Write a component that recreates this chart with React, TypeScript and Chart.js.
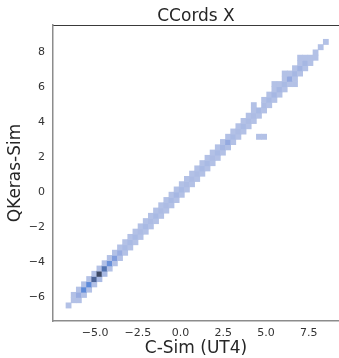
import React, { useEffect, useRef } from "react";
import { Chart, registerables } from "chart.js";

Chart.register(...registerables);

const TITLE = "CCords X";
const X_LABEL = "C-Sim (UT4)";
const Y_LABEL = "QKeras-Sim";
const X_TICKS = [-5, -2.5, 0, 2.5, 5, 7.5];
const Y_TICKS = [-6, -4, -2, 0, 2, 4, 6, 8];
const X_RANGE = [-7.46, 9.27];
const Y_RANGE = [-7.39, 9.57];

// histogram bins (data units)
const X_BIN_START = -6.7;
const X_BIN_WIDTH = 0.301;
const Y_BIN_START = -6.65;
const Y_BIN_WIDTH = 0.302;

// [x bin, y bin, count]
const CELLS: [number, number, number][] = [
  [0, 0, 2],
  [1, 1, 2], [2, 1, 2],
  [1, 2, 2], [2, 2, 9], [3, 2, 2],
  [2, 3, 2], [3, 3, 20], [4, 3, 2],
  [3, 4, 2], [4, 4, 20], [5, 4, 2],
  [4, 5, 2], [5, 5, 30], [6, 5, 5],
  [5, 6, 2], [6, 6, 40], [7, 6, 5],
  [6, 7, 2], [7, 7, 26], [8, 7, 2],
  [7, 8, 2], [8, 8, 18], [9, 8, 2],
  [8, 9, 2], [9, 9, 14], [10, 9, 2],
  [9, 10, 2], [10, 10, 9], [11, 10, 2],
  [10, 11, 2], [11, 11, 5], [12, 11, 2],
  [11, 12, 2], [12, 12, 5], [13, 12, 2],
  [12, 13, 2], [13, 13, 5], [14, 13, 2],
  [13, 14, 2], [14, 14, 4], [15, 14, 2],
  [14, 15, 2], [15, 15, 5], [16, 15, 2],
  [15, 16, 2], [16, 16, 4], [17, 16, 2],
  [16, 17, 2], [17, 17, 5], [18, 17, 2],
  [17, 18, 2], [18, 18, 4], [19, 18, 2],
  [18, 19, 2], [19, 19, 4], [20, 19, 2],
  [19, 20, 2], [20, 20, 5], [21, 20, 2],
  [20, 21, 2], [21, 21, 6], [22, 21, 2],
  [21, 22, 2], [22, 22, 5], [23, 22, 2],
  [22, 23, 2], [23, 23, 4], [24, 23, 2],
  [23, 24, 2], [24, 24, 4], [25, 24, 2],
  [24, 25, 2], [25, 25, 4], [26, 25, 2],
  [25, 26, 2], [26, 26, 5], [27, 26, 2],
  [26, 27, 2], [27, 27, 5], [28, 27, 2],
  [27, 28, 2], [28, 28, 4], [29, 28, 2],
  [28, 29, 2], [29, 29, 5], [30, 29, 2],
  [29, 30, 2], [30, 30, 6], [31, 30, 3],
  [30, 31, 2], [31, 31, 10], [32, 31, 2],
  [31, 32, 2], [32, 32, 5], [33, 32, 2], [37, 32, 2], [38, 32, 2],
  [32, 33, 2], [33, 33, 4], [34, 33, 2],
  [33, 34, 2], [34, 34, 5], [35, 34, 2],
  [34, 35, 2], [35, 35, 4], [36, 35, 2],
  [35, 36, 2], [36, 36, 4], [37, 36, 2],
  [36, 37, 2], [37, 37, 5], [38, 37, 2],
  [36, 38, 2], [38, 38, 4], [39, 38, 2],
  [38, 39, 2], [39, 39, 5], [40, 39, 2],
  [39, 40, 2], [40, 40, 6], [41, 40, 2],
  [40, 41, 2], [41, 41, 6], [42, 41, 2],
  [40, 42, 2], [41, 42, 2], [42, 42, 5], [43, 42, 2], [44, 42, 2],
  [42, 43, 2], [43, 43, 10], [44, 43, 2],
  [42, 44, 2], [43, 44, 2], [44, 44, 6], [45, 44, 2],
  [44, 45, 2], [45, 45, 7], [46, 45, 2],
  [45, 46, 2], [46, 46, 6], [47, 46, 2],
  [45, 47, 2], [46, 47, 2], [47, 47, 2], [48, 47, 2],
  [48, 48, 2],
  [49, 49, 2],
  [50, 50, 2],
];

const FONT = "'DejaVu Sans', sans-serif";
const TEXT_COLOR = "#262626";

const COLOR_STOPS: [number, [number, number, number]][] = [
  [0.0, [186, 198, 231]],
  [0.15, [166, 183, 227]],
  [0.3, [140, 163, 222]],
  [0.5, [94, 139, 217]],
  [0.75, [76, 100, 152]],
  [1.0, [60, 72, 100]],
];

function cellColor(count: number, max: number): string {
  const t = Math.max(0, Math.min(1, count / max));
  for (let k = 1; k < COLOR_STOPS.length; k++) {
    const [t1, c1] = COLOR_STOPS[k];
    const [t0, c0] = COLOR_STOPS[k - 1];
    if (t <= t1) {
      const f = (t - t0) / (t1 - t0);
      const c = c0.map((v, idx) => Math.round(v + (c1[idx] - v) * f));
      return `rgb(${c[0]},${c[1]},${c[2]})`;
    }
  }
  const c = COLOR_STOPS[COLOR_STOPS.length - 1][1];
  return `rgb(${c[0]},${c[1]},${c[2]})`;
}

function minusFmt(v: number, digits: number): string {
  const s = Math.abs(v).toFixed(digits);
  return v < 0 ? "\u2212" + s : s;
}

export default function App() {
  const ref = useRef<HTMLCanvasElement | null>(null);

  useEffect(() => {
    if (!ref.current) return;
    const maxCount = Math.max(...CELLS.map((c) => c[2]));
    const data = CELLS.map(([i, j]) => ({
      x: X_BIN_START + (i + 0.5) * X_BIN_WIDTH,
      y: [Y_BIN_START + j * Y_BIN_WIDTH, Y_BIN_START + (j + 1) * Y_BIN_WIDTH],
    }));
    const colors = CELLS.map((c) => cellColor(c[2], maxCount));

    const chart = new Chart(ref.current, {
      type: "bar",
      data: {
        datasets: [
          {
            data: data as any,
            backgroundColor: colors,
            borderWidth: 0,
            barPercentage: 1,
            categoryPercentage: 1,
            grouped: false,
          } as any,
        ],
      },
      options: {
        animation: false,
        responsive: false,
        devicePixelRatio: 1,
        layout: { padding: 0 },
        plugins: {
          legend: { display: false },
          tooltip: { enabled: false },
          title: {
            display: true,
            text: TITLE,
            fullSize: false,
            color: TEXT_COLOR,
            font: { family: FONT, size: 17, weight: "normal", lineHeight: 1 },
            padding: { top: 8, bottom: 0 },
          } as any,
        },
        scales: {
          x: {
            type: "linear",
            position: "bottom",
            min: X_RANGE[0],
            max: X_RANGE[1],
            offset: false,
            grid: { display: false, drawTicks: false },
            border: { display: true, color: "#8c8c8c", width: 1.5 },
            afterBuildTicks: (axis: any) => {
              axis.ticks = X_TICKS.map((v) => ({ value: v }));
            },
            afterFit: (axis: any) => {
              axis.height = 37;
            },
            ticks: {
              padding: 6,
              color: "#333333",
              font: { family: FONT, size: 11 },
              maxRotation: 0,
              autoSkip: false,
              callback: (v: any) => minusFmt(Number(v), 1),
            },
            title: {
              display: true,
              text: X_LABEL,
              color: TEXT_COLOR,
              font: { family: FONT, size: 17, lineHeight: 1 },
              padding: { top: 0, bottom: 0.5 },
            },
          },
          x2: {
            type: "linear",
            position: "top",
            min: X_RANGE[0],
            max: X_RANGE[1],
            grid: { display: false, drawTicks: false },
            border: { display: true, color: "#3a3a3a", width: 1 },
            ticks: { display: false },
            afterFit: (axis: any) => {
              axis.height = 0;
            },
          },
          y: {
            type: "linear",
            min: Y_RANGE[0],
            max: Y_RANGE[1],
            grid: { display: false, drawTicks: false },
            border: { display: true, color: "#8c8c8c", width: 1.5 },
            afterBuildTicks: (axis: any) => {
              axis.ticks = Y_TICKS.map((v) => ({ value: v }));
            },
            afterFit: (axis: any) => {
              axis.width = 53;
            },
            ticks: {
              padding: 8,
              color: "#333333",
              font: { family: FONT, size: 11 },
              autoSkip: false,
              callback: (v: any) => minusFmt(Number(v), 0),
            },
            title: {
              display: true,
              text: Y_LABEL,
              color: TEXT_COLOR,
              font: { family: FONT, size: 17, lineHeight: 1 },
              padding: { top: 7, bottom: 0 },
            },
          },
        },
      } as any,
    });
    return () => chart.destroy();
  }, []);

  return (
    <div style={{ position: "absolute", left: 0, top: 0, width: 339, height: 358, background: "#fff" }}>
      <canvas ref={ref} width={339} height={358} style={{ width: 339, height: 358, display: "block" }} />
    </div>
  );
}
